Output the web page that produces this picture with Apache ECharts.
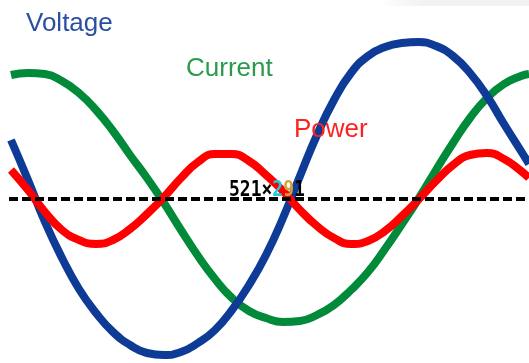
<!DOCTYPE html>
<html>
<head>
<meta charset="utf-8">
<script src="https://cdn.jsdelivr.net/npm/echarts@6/dist/echarts.min.js"></script>
<style>
html,body{margin:0;padding:0;background:#fff;}
#chart{width:529px;height:363px;}
</style>
</head>
<body>
<div id="chart"></div>
<script>
// Sample times (arbitrary units)
var times = [0, 17, 34, 51, 68, 85, 102, 119, 136, 153, 170, 187, 204, 221, 238, 255, 272, 289, 306, 323, 340, 357, 374, 391, 408, 425, 442, 459, 476, 493, 510, 518];
// Values (0 = dashed axis)
var voltage = [59, 19, -23, -59, -90, -114, -133, -146, -154, -156, -153, -144, -131, -111, -86, -56, -19, 23, 64, 99, 126, 143, 152, 156, 157, 153, 143, 126, 103, 75, 48, 35];
var current = [124, 126, 125, 118, 106, 89, 68, 44, 21, -4, -31, -57, -80, -99, -112, -119, -123, -122, -116, -106, -91, -73, -50, -25, 1, 29, 56, 81, 101, 115, 123, 125];
var power = [29, 9, -13, -31, -41, -45, -41, -30, -15, 2, 21, 37, 45, 45, 38, 24, 8, -11, -27, -39, -45, -42, -32, -17, 0, 18, 34, 44, 46, 40, 28, 21];

var seriesNames = ['Voltage', 'Current', 'Power'];

function pairs(t, v) { return t.map(function (x, i) { return [x, v[i]]; }); }

var chart = echarts.init(document.getElementById('chart'), null, {renderer: 'canvas'});
var lineW = 8;
var labelFont = '26px "Liberation Sans", Arial, sans-serif';
var monoFont = 'bold 18px "DejaVu Sans Mono", monospace';
chart.setOption({
  animation: false,
  backgroundColor: '#ffffff',
  grid: {left: 9, right: 0, top: 0, bottom: 0},
  xAxis: {type: 'value', min: -2, max: 518, show: false},
  yAxis: {type: 'value', min: -164, max: 199, show: false},
  series: [
    {
      name: seriesNames[1], type: 'line', smooth: 0.5, symbol: 'none', z: 2,
      lineStyle: {color: '#008a3a', width: lineW},
      data: pairs(times, current),
      markLine: {
        silent: true, symbol: 'none', label: {show: false},
        lineStyle: {color: '#000000', width: 4, type: [9, 4]},
        data: [{yAxis: 0}]
      }
    },
    {
      name: seriesNames[0], type: 'line', smooth: 0.5, symbol: 'none', z: 3,
      lineStyle: {color: '#0e3b96', width: lineW},
      data: pairs(times, voltage)
    },
    {
      name: seriesNames[2], type: 'line', smooth: 0.5, symbol: 'none', z: 4,
      lineStyle: {color: '#ff0000', width: lineW},
      data: pairs(times, power)
    }
  ],
  graphic: [
    {type: 'rect', left: 380, top: 0, z: 0, shape: {width: 149, height: 6},
     style: {fill: new echarts.graphic.LinearGradient(0, 0, 1, 0, [{offset: 0, color: 'rgba(240,240,240,0)'}, {offset: 0.3, color: '#f2f2f2'}, {offset: 1, color: '#f2f2f2'}])}},
    {type: 'text', x: 26, y: 24, z: 10,
     style: {text: seriesNames[0], fill: '#2b4ea3', font: labelFont, verticalAlign: 'middle'}},
    {type: 'text', x: 186, y: 69, z: 10,
     style: {text: seriesNames[1], fill: '#2a9a4c', font: labelFont, verticalAlign: 'middle'}},
    {type: 'text', x: 294, y: 130, z: 10,
     style: {text: seriesNames[2], fill: '#ff2020', font: labelFont, verticalAlign: 'middle'}},
    {type: 'text', x: 229, y: 201, zlevel: 1, z: 10, scaleY: 1.2,
     style: {
       text: '{a|521×}{b|2}{c|9}{a|1}',
       verticalAlign: 'bottom',
       rich: {
         a: {fill: '#000000', font: monoFont},
         b: {fill: '#22c8dc', font: monoFont},
         c: {fill: '#d9a23a', font: monoFont}
       }
     }}
  ]
});
</script>
</body>
</html>
